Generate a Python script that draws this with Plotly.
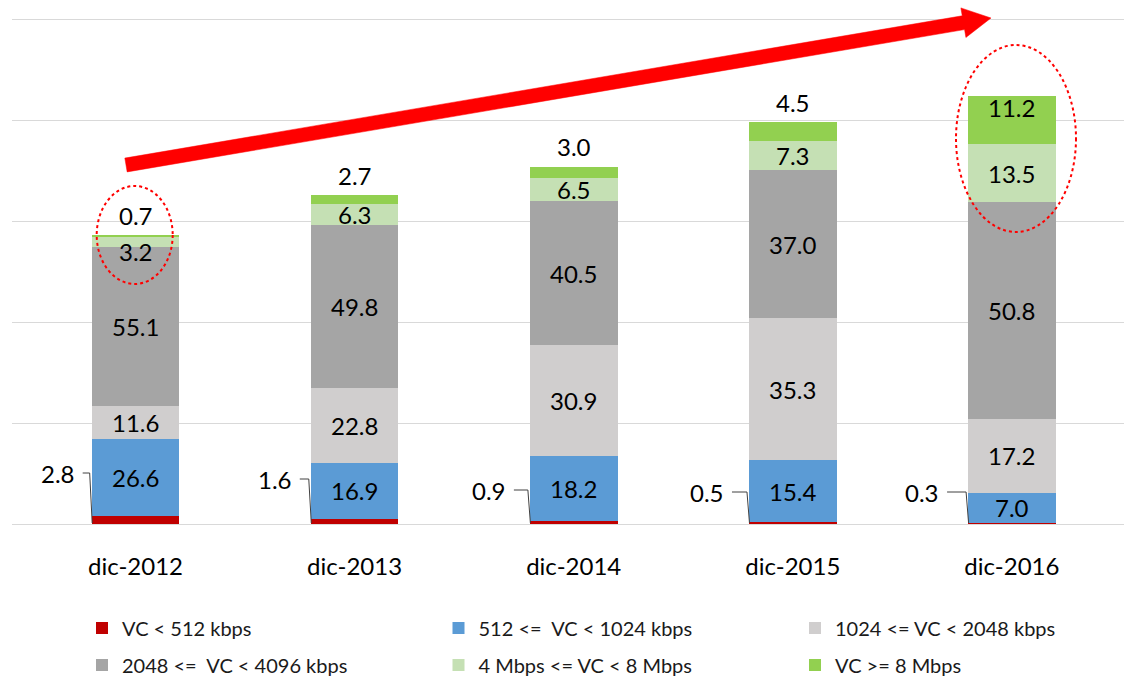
import math
import plotly.graph_objects as go

# ---------------- data ----------------
categories = ["dic-2012", "dic-2013", "dic-2014", "dic-2015", "dic-2016"]
series_names = [
    "VC < 512 kbps",
    "512 <=  VC < 1024 kbps",
    "1024 <= VC < 2048 kbps",
    "2048 <=  VC < 4096 kbps",
    "4 Mbps <= VC < 8 Mbps",
    "VC >= 8 Mbps",
]
pct_lt512 = [2.8, 1.6, 0.9, 0.5, 0.3]
pct_512_1024 = [26.6, 16.9, 18.2, 15.4, 7.0]
pct_1024_2048 = [11.6, 22.8, 30.9, 35.3, 17.2]
pct_2048_4096 = [55.1, 49.8, 40.5, 37.0, 50.8]
pct_4_8 = [3.2, 6.3, 6.5, 7.3, 13.5]
pct_ge8 = [0.7, 2.7, 3.0, 4.5, 11.2]
# total bar height (axis units, one gridline = 1)
totals = [2.86, 3.26, 3.54, 3.98, 4.24]

colors = ["#C00000", "#5B9BD5", "#D0CECE", "#A5A5A5", "#C5E0B4", "#92D050"]

series = [pct_lt512, pct_512_1024, pct_1024_2048, pct_2048_4096, pct_4_8, pct_ge8]

# ---------------- layout constants (pixels) ----------------
W, H = 1124, 680
ML, MR, MT, MB = 12, 0, 5, 156
PLOT_W = W - ML - MR
PLOT_H = H - MT - MB
BASE_PX = MT + PLOT_H
CAT0_PX = 135.5
CAT_STEP = 219.1
Y_TOP = 5.144
UNIT = PLOT_H / Y_TOP
BAR_W = 0.4
FONT = "Lato, 'Open Sans', sans-serif"


def xd(px):
    return (px - CAT0_PX) / CAT_STEP


def yd(py):
    return (BASE_PX - py) / UNIT


def px_of_x(x):
    return CAT0_PX + x * CAT_STEP


n = len(categories)
xs = list(range(n))
sums = [sum(s[i] for s in series) for i in range(n)]
heights = [[s[i] / sums[i] * totals[i] for i in range(n)] for s in series]

legend_ids = ["legend", "legend2", "legend3", "legend4", "legend5", "legend6"]

fig = go.Figure()
for k, name in enumerate(series_names):
    fig.add_trace(go.Bar(
        x=xs, y=heights[k], name=name,
        marker=dict(color=colors[k], line=dict(width=0)),
        width=BAR_W,
        legend=legend_ids[k],
        hoverinfo="skip",
    ))

annotations = []
shapes = []
label_font = dict(family=FONT, size=24, color="#000000")

# segment labels
for i in range(n):
    cum = 0.0
    for k in range(len(series)):
        h = heights[k][i]
        v = series[k][i]
        txt = f"{v:.1f}"
        if k == 0:
            # label on the left with a leader line
            bar_left_px = px_of_x(i) - BAR_W / 2 * CAT_STEP
            lab_off = [-34, -36, -41, -42, -46][i]
            lab_y = [473, 479, 490, 492, 492][i]
            cx = bar_left_px + lab_off
            annotations.append(dict(x=xd(cx), y=yd(lab_y), text=txt, showarrow=False,
                                    font=label_font, xanchor="center", yanchor="middle"))
            sx = cx + 25
            path = (f"M {xd(sx)},{yd(lab_y)} L {xd(bar_left_px - 2)},{yd(lab_y)} "
                    f"L {xd(bar_left_px + 0.5)},{yd(BASE_PX - 1)}")
            shapes.append(dict(type="path", path=path, xref="x", yref="y",
                               line=dict(color="#404040", width=1)))
        elif k == 5 and i < 4:
            annotations.append(dict(x=i, y=cum + h, text=txt, showarrow=False, yshift=20,
                                    font=label_font, xanchor="center", yanchor="middle"))
        else:
            ys = 0
            if k == 4 and i == 0:
                ys = -9
            if k == 5 and i == 4:
                ys = 13
            annotations.append(dict(x=i, y=cum + h / 2, text=txt, showarrow=False, yshift=ys,
                                    font=label_font, xanchor="center", yanchor="middle"))
        cum += h

# red dotted ellipses
shapes.append(dict(type="circle", xref="x", yref="y",
                   x0=xd(134.7 - 38), x1=xd(134.7 + 38), y0=yd(235 + 49), y1=yd(235 - 49),
                   line=dict(color="#FF0000", width=2, dash="dot")))
shapes.append(dict(type="circle", xref="x", yref="y",
                   x0=xd(1016 - 60), x1=xd(1016 + 60), y0=yd(138.5 + 93.5), y1=yd(138.5 - 93.5),
                   line=dict(color="#FF0000", width=2, dash="dot")))

# big red arrow
tx, ty = 126.0, 165.0
hx, hy = 991.0, 18.0
dx, dy = hx - tx, hy - ty
L = math.hypot(dx, dy)
ux, uy = dx / L, dy / L
nx, ny = -uy, ux
hw, head_len, head_hw = 7.0, 28.0, 15.0
bx, by = hx - head_len * ux, hy - head_len * uy
pts = [
    (tx + hw * nx, ty + hw * ny),
    (bx + hw * nx, by + hw * ny),
    (bx + head_hw * nx, by + head_hw * ny),
    (hx, hy),
    (bx - head_hw * nx, by - head_hw * ny),
    (bx - hw * nx, by - hw * ny),
    (tx - hw * nx, ty - hw * ny),
]
path = "M " + " L ".join(f"{xd(p[0])},{yd(p[1])}" for p in pts) + " Z"
shapes.append(dict(type="path", path=path, xref="x", yref="y",
                   fillcolor="#FF0000", line=dict(color="#FF0000", width=0.5)))

# legends: 3 columns x 2 rows, each entry its own legend box (container coords)
col_px = [82, 438.5, 795]
row_px = [628, 665]
layout_legends = {}
for k, lid in enumerate(legend_ids):
    c, r = k % 3, k // 3
    layout_legends[lid] = dict(
        x=col_px[c] / W, xref="container",
        y=1 - row_px[r] / H, yref="container",
        xanchor="left", yanchor="middle", orientation="h",
        font=dict(family=FONT, size=20, color="#1a1a1a"),
        bgcolor="rgba(0,0,0,0)", itemclick=False, itemdoubleclick=False,
    )

fig.update_layout(
    width=W, height=H,
    margin=dict(l=ML, r=MR, t=MT, b=MB, pad=0, autoexpand=False),
    paper_bgcolor="white", plot_bgcolor="white",
    barmode="stack",
    showlegend=True,
    xaxis=dict(range=[xd(ML), xd(W - MR)], tickvals=xs, ticktext=categories,
               tickfont=dict(family=FONT, size=24, color="#000000"),
               showgrid=False, zeroline=False, showline=False, ticks="",
               ticklabelstandoff=26, fixedrange=True, automargin=False),
    yaxis=dict(range=[0, Y_TOP], dtick=1, tick0=0, showgrid=True, gridcolor="#D9D9D9",
               gridwidth=1, zeroline=True, zerolinecolor="#D9D9D9", zerolinewidth=1,
               showticklabels=False, showline=False, ticks="", fixedrange=True,
               automargin=False),
    annotations=annotations,
    shapes=shapes,
    font=dict(family=FONT),
    **layout_legends,
)

fig.write_html("out.html", config={"displayModeBar": False},
               post_script="document.body.style.margin='0';document.body.style.padding='0';")
